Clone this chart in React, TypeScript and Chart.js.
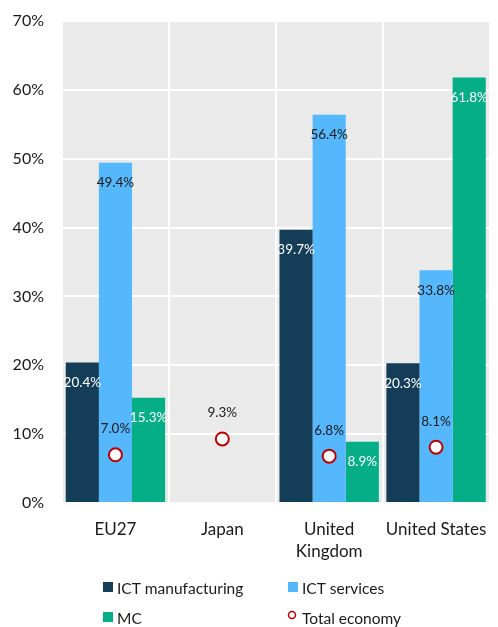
import React, { useEffect, useRef } from "react";
import { Chart, registerables } from "chart.js";

Chart.register(...registerables);

const categories: (string | string[])[] = ["EU27", "Japan", ["United", "Kingdom"], "United States"];
const ictManufacturing: (number | null)[] = [20.4, null, 39.7, 20.3];
const ictServices: (number | null)[] = [49.4, null, 56.4, 33.8];
const mc: (number | null)[] = [15.3, null, 8.9, 61.8];
const totalEconomy: number[] = [7.0, 9.3, 6.8, 8.1];
const yMin = 0;
const yMax = 70;
const yStep = 10;

const seriesNames = ["ICT manufacturing", "ICT services", "MC", "Total economy"];
const COLORS = { dark: "#143E58", light: "#55B7FC", green: "#05AE87", red: "#C00000", bg: "#EAEAEA" };
const FONT = "Lato";

const bgPlugin = {
  id: "bgPlugin",
  beforeDraw(chart: any) {
    const { ctx, chartArea } = chart;
    ctx.save();
    ctx.fillStyle = COLORS.bg;
    ctx.fillRect(chartArea.left, chartArea.top, chartArea.right - chartArea.left, chartArea.bottom - chartArea.top);
    ctx.restore();
  },
};

const labelPlugin = {
  id: "labelPlugin",
  afterDatasetsDraw(chart: any) {
    const { ctx } = chart;
    ctx.save();
    ctx.font = `13.5px ${FONT}`;
    ctx.textAlign = "center";
    ctx.textBaseline = "middle";
    const labelColors = ["#FFFFFF", "#1A1A1A", "#FFFFFF"];
    chart.data.datasets.forEach((ds: any, di: number) => {
      const meta = chart.getDatasetMeta(di);
      meta.data.forEach((el: any, i: number) => {
        const v = ds.data[i];
        if (v === null || v === undefined) return;
        const txt = v.toFixed(1) + "%";
        if (di < 3) {
          ctx.fillStyle = labelColors[di];
          ctx.fillText(txt, el.x, el.y + 20);
        } else {
          ctx.fillStyle = "#1A1A1A";
          ctx.fillText(txt, el.x, el.y - 26);
        }
      });
    });
    ctx.restore();
  },
};

const legendPlugin = {
  id: "legendPlugin",
  afterDraw(chart: any) {
    const { ctx } = chart;
    ctx.save();
    ctx.font = `15.5px ${FONT}`;
    ctx.textBaseline = "middle";
    ctx.textAlign = "left";
    const items = [
      { x: 103, y: 588, kind: "box", color: COLORS.dark, name: seriesNames[0] },
      { x: 288, y: 588, kind: "box", color: COLORS.light, name: seriesNames[1] },
      { x: 103, y: 618, kind: "box", color: COLORS.green, name: seriesNames[2] },
      { x: 288, y: 618, kind: "circle", color: COLORS.red, name: seriesNames[3] },
    ];
    items.forEach((it) => {
      if (it.kind === "box") {
        ctx.fillStyle = it.color;
        ctx.fillRect(it.x, it.y - 6, 10, 10);
      } else {
        ctx.beginPath();
        ctx.arc(it.x + 4, it.y - 3, 3.5, 0, Math.PI * 2);
        ctx.fillStyle = "#FFFFFF";
        ctx.fill();
        ctx.lineWidth = 1.5;
        ctx.strokeStyle = it.color;
        ctx.stroke();
      }
      ctx.fillStyle = "#1A1A1A";
      ctx.fillText(it.name, it.x + 14, it.y + 1);
    });
    ctx.restore();
  },
};

export default function App() {
  const ref = useRef<HTMLCanvasElement | null>(null);
  useEffect(() => {
    document.body.style.margin = "0";
    if (!ref.current) return;
    const chart = new Chart(ref.current, {
      type: "bar",
      data: {
        labels: categories as any,
        datasets: [
          { type: "bar", label: seriesNames[0], data: ictManufacturing, backgroundColor: COLORS.dark, order: 1 },
          { type: "bar", label: seriesNames[1], data: ictServices, backgroundColor: COLORS.light, order: 1 },
          { type: "bar", label: seriesNames[2], data: mc, backgroundColor: COLORS.green, order: 1 },
          {
            type: "line",
            label: seriesNames[3],
            data: totalEconomy,
            showLine: false,
            pointRadius: 6.5,
            pointBorderWidth: 2,
            pointBackgroundColor: "#FFFFFF",
            pointBorderColor: COLORS.red,
            order: 0,
          } as any,
        ],
      },
      options: {
        responsive: false,
        animation: false,
        layout: { padding: { top: 21, left: 0, right: 0, bottom: 0 } },
        datasets: { bar: { categoryPercentage: 0.93, barPercentage: 1 } },
        plugins: { legend: { display: false }, tooltip: { enabled: false } },
        scales: {
          x: {
            offset: true,
            grid: { color: "#FFFFFF", lineWidth: 2, drawTicks: false, offset: true },
            border: { display: false },
            ticks: { color: "#1A1A1A", font: { family: FONT, size: 17, lineHeight: 1.3 }, padding: 15, maxRotation: 0, autoSkip: false },
            afterFit: (s: any) => { s.height = 124; s.paddingLeft = 0; s.paddingRight = 0; },
          },
          y: {
            min: yMin,
            max: yMax,
            grid: { color: "#FFFFFF", lineWidth: 2, drawTicks: false },
            border: { display: false },
            ticks: { stepSize: yStep, color: "#1A1A1A", font: { family: FONT, size: 16 }, padding: 18, callback: (v: any) => v + "%" },
            afterFit: (s: any) => { s.width = 62; s.paddingTop = 0; s.paddingBottom = 0; },
          },
        },
      },
      plugins: [bgPlugin, labelPlugin, legendPlugin],
    });
    return () => chart.destroy();
  }, []);
  return (
    <div style={{ width: 498, height: 627 }}>
      <canvas ref={ref} width={498} height={627} style={{ display: "block" }} />
    </div>
  );
}
